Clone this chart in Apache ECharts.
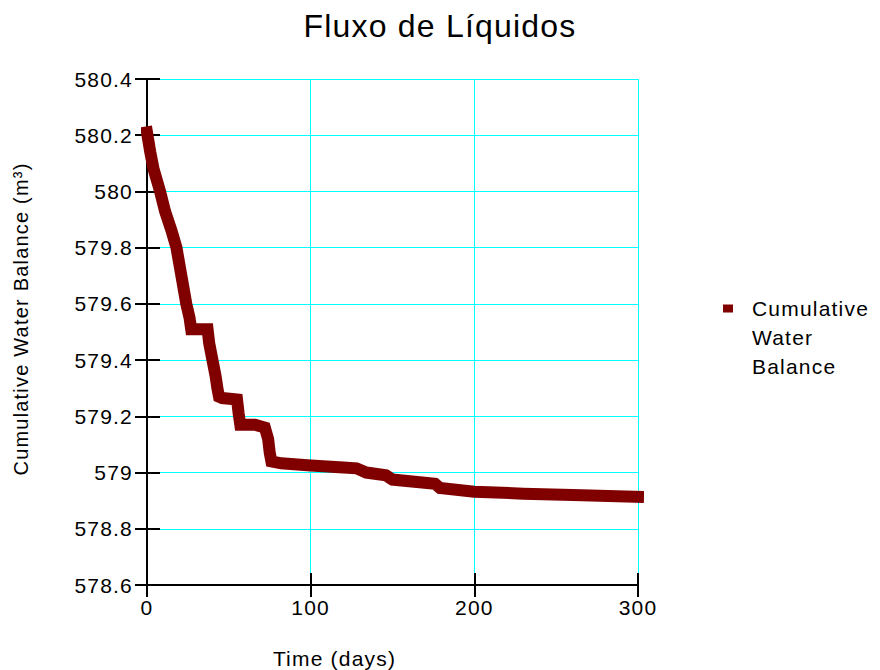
<!DOCTYPE html>
<html>
<head>
<meta charset="utf-8">
<script src="https://cdn.jsdelivr.net/npm/echarts@6/dist/echarts.min.js"></script>
<style>
  html, body { margin: 0; padding: 0; background: #fff; }
  #chart { width: 880px; height: 670px; }
  #chart text { letter-spacing: 1.2px; }
</style>
</head>
<body>
<div id="chart"></div>
<script>
// Time in days
const days = [0, 2, 4, 8, 11, 15, 18, 21, 24, 26, 27, 37, 38, 40, 42, 43, 44, 46, 55, 56, 57, 66, 72, 74, 75, 76, 82, 100, 120, 128, 134, 146, 150, 176, 179, 200, 230, 260, 300];
// Cumulative water balance (m³)
const balance = [580.21, 580.14, 580.08, 580.0, 579.93, 579.86, 579.8, 579.7, 579.6, 579.55, 579.51, 579.51, 579.46, 579.4, 579.34, 579.3, 579.27, 579.265, 579.26, 579.21, 579.17, 579.17, 579.16, 579.12, 579.07, 579.04, 579.033, 579.025, 579.018, 579.015, 579.0, 578.99, 578.975, 578.96, 578.945, 578.932, 578.925, 578.92, 578.914];

const seriesName = 'Cumulative\nWater\nBalance';
const font = '"Liberation Sans", Arial, sans-serif';
const gridColor = '#00ffff';

const chart = echarts.init(document.getElementById('chart'), null, { renderer: 'svg' });

const yRange = { min: 578.6, max: 580.4, interval: 0.2 };
const xRange = { min: 0, max: 300, interval: 100 };

// legend marker: a small square at the top of a tall, otherwise empty box,
// so it sits beside the first line of the three-line label
const legendIcon = 'path://M0,0 L10,0 L10,8 L0,8 Z M0,66 L0.01,66 L0.01,66.01 Z';

chart.setOption({
  animation: false,
  backgroundColor: '#ffffff',
  title: {
    text: 'Fluxo de Líquidos',
    left: 'center',
    top: 5,
    textStyle: { fontFamily: font, fontSize: 32, fontWeight: 'normal', color: '#000' }
  },
  legend: {
    data: [seriesName],
    left: 723,
    top: 294,
    padding: 0,
    icon: legendIcon,
    itemWidth: 10,
    itemHeight: 66,
    textStyle: {
      fontFamily: font, fontSize: 21, color: '#000',
      lineHeight: 29, padding: [0, 0, 0, 14]
    }
  },
  grid: { left: 147, top: 79, width: 491, height: 506, containLabel: false, outerBoundsMode: 'none' },
  xAxis: [{
    type: 'value',
    min: xRange.min, max: xRange.max, interval: xRange.interval,
    name: 'Time (days)',
    nameLocation: 'middle',
    nameGap: 63,
    nameTextStyle: { fontFamily: font, fontSize: 21, color: '#000', padding: [0, 116, 0, 0] },
    axisLine: { lineStyle: { color: '#000', width: 2 } },
    axisTick: { length: 12, lineStyle: { color: '#000', width: 2 } },
    axisLabel: { margin: 12, fontFamily: font, fontSize: 21, color: '#000' },
    splitLine: { show: true, lineStyle: { color: gridColor, width: 1 } }
  }, {
    type: 'value', position: 'bottom',
    min: xRange.min, max: xRange.max, interval: xRange.interval,
    axisLine: { show: false },
    axisTick: { inside: true, length: 12, lineStyle: { color: '#000', width: 2 } },
    axisLabel: { show: false },
    splitLine: { show: true, lineStyle: { color: gridColor, width: 1 } }
  }],
  yAxis: [{
    type: 'value',
    min: yRange.min, max: yRange.max, interval: yRange.interval,
    name: 'Cumulative Water Balance (m³)',
    nameLocation: 'middle',
    nameGap: 116,
    nameTextStyle: { fontFamily: font, fontSize: 20, color: '#000', padding: [0, 0, 0, 26] },
    axisLine: { show: true, lineStyle: { color: '#000', width: 2 } },
    axisTick: { show: true, length: 12, lineStyle: { color: '#000', width: 2 } },
    axisLabel: { margin: 14, fontFamily: font, fontSize: 21, color: '#000' },
    splitLine: { show: true, lineStyle: { color: gridColor, width: 1 } }
  }, {
    type: 'value', position: 'left',
    min: yRange.min, max: yRange.max, interval: yRange.interval,
    axisLine: { show: false },
    axisTick: { show: true, inside: true, length: 13, lineStyle: { color: '#000', width: 2 } },
    axisLabel: { show: false },
    splitLine: { show: true, lineStyle: { color: gridColor, width: 1 } }
  }],
  series: [{
    name: seriesName,
    type: 'line',
    xAxisIndex: 0,
    yAxisIndex: 0,
    data: days.map((d, i) => [d, balance[i]]),
    showSymbol: false,
    symbol: 'rect',
    color: '#800000',
    lineStyle: { color: '#800000', width: 12, cap: 'square', join: 'miter' },
    z: 3
  }]
});
</script>
</body>
</html>
